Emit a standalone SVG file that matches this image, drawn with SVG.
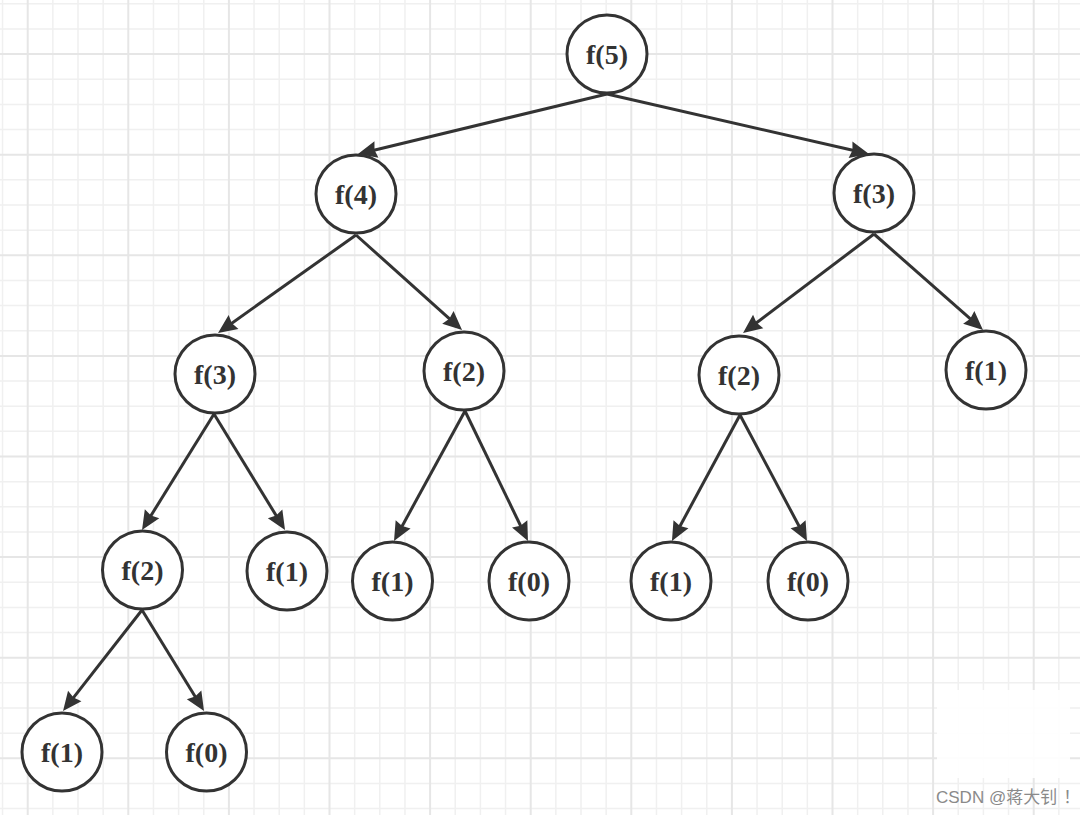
<svg xmlns="http://www.w3.org/2000/svg" width="1080" height="815" viewBox="0 0 1080 815">
<style>
.gmin{stroke:#f0f0f0;stroke-width:1.5;fill:none}
.gmaj{stroke:#e6e6e6;stroke-width:2;fill:none}
.node ellipse{fill:#ffffff;stroke:#333333;stroke-width:3}
.node text{font-family:"Liberation Serif","Times New Roman",serif;font-weight:bold;font-size:28px;fill:#333333;text-anchor:middle}
.edge{stroke:#333333;stroke-width:3;fill:none;marker-end:url(#arrow)}
.wm{font-family:"Liberation Sans","Noto Sans CJK SC",sans-serif;font-size:17px;fill:#8a8a8a}
</style>
<defs>
<marker id="arrow" markerUnits="userSpaceOnUse" markerWidth="21" markerHeight="18" refX="9" refY="8.5" orient="auto" overflow="visible">
<path d="M0,0 L19,8.5 L0,17 L2,8.5 Z" fill="#333333"/>
</marker>
</defs>
<rect x="0" y="0" width="1080" height="815" fill="#ffffff"/>
<g id="grid">
<path class="gmin" d="M2.55 0V815M52.85 0V815M78 0V815M103.15 0V815M153.45 0V815M178.6 0V815M203.75 0V815M254.05 0V815M279.2 0V815M304.35 0V815M354.65 0V815M379.8 0V815M404.95 0V815M455.25 0V815M480.4 0V815M505.55 0V815M555.85 0V815M581 0V815M606.15 0V815M656.45 0V815M681.6 0V815M706.75 0V815M757.05 0V815M782.2 0V815M807.35 0V815M857.65 0V815M882.8 0V815M907.95 0V815M958.25 0V815M983.4 0V815M1008.55 0V815M1058.85 0V815M0 3.8H1080M0 28.95H1080M0 79.25H1080M0 104.4H1080M0 129.55H1080M0 179.85H1080M0 205H1080M0 230.15H1080M0 280.45H1080M0 305.6H1080M0 330.75H1080M0 381.05H1080M0 406.2H1080M0 431.35H1080M0 481.65H1080M0 506.8H1080M0 531.95H1080M0 582.25H1080M0 607.4H1080M0 632.55H1080M0 682.85H1080M0 708H1080M0 733.15H1080M0 783.45H1080M0 808.6H1080"/>
<path class="gmaj" d="M27.7 0V815M128.3 0V815M228.9 0V815M329.5 0V815M430.1 0V815M530.7 0V815M631.3 0V815M731.9 0V815M832.5 0V815M933.1 0V815M1033.7 0V815M0 54.1H1080M0 154.7H1080M0 255.3H1080M0 355.9H1080M0 456.5H1080M0 557.1H1080M0 657.7H1080M0 758.3H1080"/>
<rect x="937" y="690" width="133" height="88" fill="#ffffff" opacity="0.9"/>
</g>
<g id="connectors">
<path class="edge" d="M607 94L367.7 151.7"/>
<path class="edge" d="M607 94L859.3 151.8"/>
<path class="edge" d="M356 235L226.2 327.2"/>
<path class="edge" d="M356 235L454.6 323.3"/>
<path class="edge" d="M874 234L751 327"/>
<path class="edge" d="M874 234L975.5 323.4"/>
<path class="edge" d="M214 414L147.3 521.5"/>
<path class="edge" d="M214 414L279.8 521.5"/>
<path class="edge" d="M465 411L398.8 532.2"/>
<path class="edge" d="M465 411L523.6 532"/>
<path class="edge" d="M740 415L676.7 532.2"/>
<path class="edge" d="M740 415L802.3 532.2"/>
<path class="edge" d="M142 610L69.2 703.1"/>
<path class="edge" d="M142 610L198.8 702.5"/>
</g>
<g id="n5" class="node"><ellipse cx="607" cy="54" rx="40" ry="39"/><text x="607" y="64">f(5)</text></g>
<g id="n4" class="node"><ellipse cx="356" cy="194" rx="40" ry="39"/><text x="356" y="204">f(4)</text></g>
<g id="n3r" class="node"><ellipse cx="874" cy="193" rx="40" ry="39"/><text x="874" y="203">f(3)</text></g>
<g id="n3l" class="node"><ellipse cx="215" cy="374" rx="40" ry="39"/><text x="215" y="384">f(3)</text></g>
<g id="n2m" class="node"><ellipse cx="464" cy="371" rx="40" ry="39"/><text x="464" y="381">f(2)</text></g>
<g id="n2r" class="node"><ellipse cx="739" cy="375" rx="40" ry="39"/><text x="739" y="385">f(2)</text></g>
<g id="n1r" class="node"><ellipse cx="986" cy="370" rx="40" ry="39"/><text x="986" y="380">f(1)</text></g>
<g id="n2l" class="node"><ellipse cx="142.5" cy="570" rx="40" ry="39"/><text x="142.5" y="580">f(2)</text></g>
<g id="n1a" class="node"><ellipse cx="287" cy="571" rx="40" ry="39"/><text x="287" y="581">f(1)</text></g>
<g id="n1b" class="node"><ellipse cx="392.5" cy="581" rx="40" ry="39"/><text x="392.5" y="591">f(1)</text></g>
<g id="n0b" class="node"><ellipse cx="529" cy="581" rx="40" ry="39"/><text x="529" y="591">f(0)</text></g>
<g id="n1c" class="node"><ellipse cx="671" cy="581" rx="40" ry="39"/><text x="671" y="591">f(1)</text></g>
<g id="n0c" class="node"><ellipse cx="808" cy="581" rx="40" ry="39"/><text x="808" y="591">f(0)</text></g>
<g id="n1d" class="node"><ellipse cx="62" cy="752" rx="40" ry="39"/><text x="62" y="762">f(1)</text></g>
<g id="n0d" class="node"><ellipse cx="206.5" cy="752" rx="40" ry="39"/><text x="206.5" y="762">f(0)</text></g>
<text class="wm" x="936" y="803">CSDN @蒋大钊<tspan dx="6">！</tspan></text>
</svg>
